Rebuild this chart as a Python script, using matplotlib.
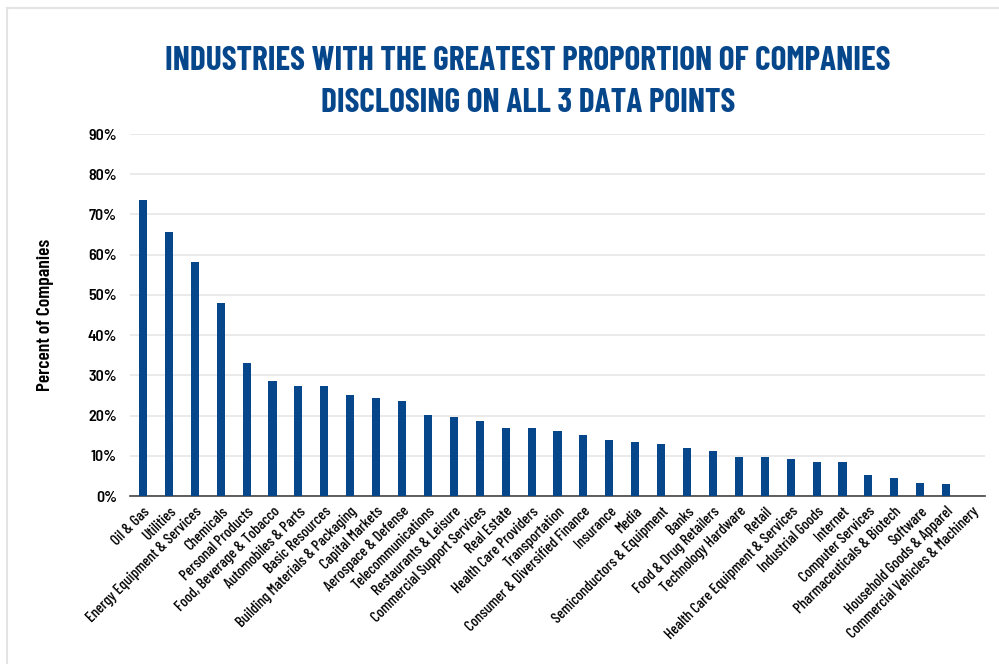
import matplotlib
matplotlib.use("Agg")
import matplotlib.pyplot as plt
from matplotlib.lines import Line2D
from matplotlib.ticker import MultipleLocator, FuncFormatter

categories = [
    "Oil & Gas", "Utilities", "Energy Equipment & Services", "Chemicals",
    "Personal Products", "Food, Beverage & Tobacco", "Automobiles & Parts",
    "Basic Resources", "Building Materials & Packaging", "Capital Markets",
    "Aerospace & Defense", "Telecommunications", "Restaurants & Leisure",
    "Commercial Support Services", "Real Estate", "Health Care Providers",
    "Transportation", "Consumer & Diversified Finance", "Insurance", "Media",
    "Semiconductors & Equipment", "Banks", "Food & Drug Retailers",
    "Technology Hardware", "Retail", "Health Care Equipment & Services",
    "Industrial Goods", "Internet", "Computer Services",
    "Pharmaceuticals & Biotech", "Software", "Household Goods & Apparel",
    "Commercial Vehicles & Machinery",
]
values = [
    73.6, 65.7, 58.3, 48.1, 33.1, 28.5, 27.3, 27.3, 25.0, 24.3, 23.6,
    20.1, 19.6, 18.7, 16.8, 16.8, 16.2, 15.2, 13.8, 13.5, 13.0, 12.0,
    11.2, 9.6, 9.6, 9.1, 8.5, 8.5, 5.1, 4.5, 3.2, 2.9, 0.0,
]
title = "INDUSTRIES WITH THE GREATEST PROPORTION OF COMPANIES\nDISCLOSING ON ALL 3 DATA POINTS"
ylabel = "Percent of Companies"

plt.rcParams["font.family"] = ["Barlow Condensed", "DejaVu Sans"]

blue = "#06478C"
fig = plt.figure(figsize=(9.99, 6.64), dpi=100)
W, H = 999, 664
ax = fig.add_axes([130 / W, 1 - 496 / H, (985 - 130) / W, (496 - 134) / H])

x = list(range(len(categories)))
ax.bar(x, values, width=0.31, color=blue, zorder=3)
ax.set_xlim(-0.5, len(categories) - 0.5)
ax.set_ylim(0, 90)
ax.yaxis.set_major_locator(MultipleLocator(10))
ax.yaxis.set_major_formatter(FuncFormatter(lambda v, p: f"{int(round(v))}%"))
ax.grid(axis="y", color="#E6E6E6", linewidth=1.2, zorder=0)
ax.set_axisbelow(True)
for s in ["top", "right", "left"]:
    ax.spines[s].set_visible(False)
ax.spines["bottom"].set_color("#444444")
ax.spines["bottom"].set_linewidth(1.2)
ax.tick_params(axis="both", length=0)
ax.tick_params(axis="y", pad=9.5)
for lab in ax.get_yticklabels():
    lab.set_family(["Barlow Semi Condensed", "DejaVu Sans"])
    lab.set_fontsize(11.5)
    lab.set_fontweight(600)
ax.set_xticks(x)
ax.set_xticklabels(categories, rotation=45, ha="right", rotation_mode="anchor",
                   fontsize=11, fontweight=500)
ax.tick_params(axis="x", pad=6)

ax.set_ylabel(ylabel, fontsize=14, fontweight=600, labelpad=24)

fig.text(528 / W, 1 - 82 / H, title, ha="center", va="center", color=blue,
         fontsize=24, fontweight=700, linespacing=1.5)

# light frame lines
fig.add_artist(Line2D([8 / W, 1], [1 - 8 / H, 1 - 8 / H], color="#E3E3E3", lw=1.5,
                      transform=fig.transFigure))
fig.add_artist(Line2D([7 / W, 7 / W], [0, 1 - 8 / H], color="#E3E3E3", lw=1.5,
                      transform=fig.transFigure))

fig.savefig("out.png", dpi=100, facecolor="white")
